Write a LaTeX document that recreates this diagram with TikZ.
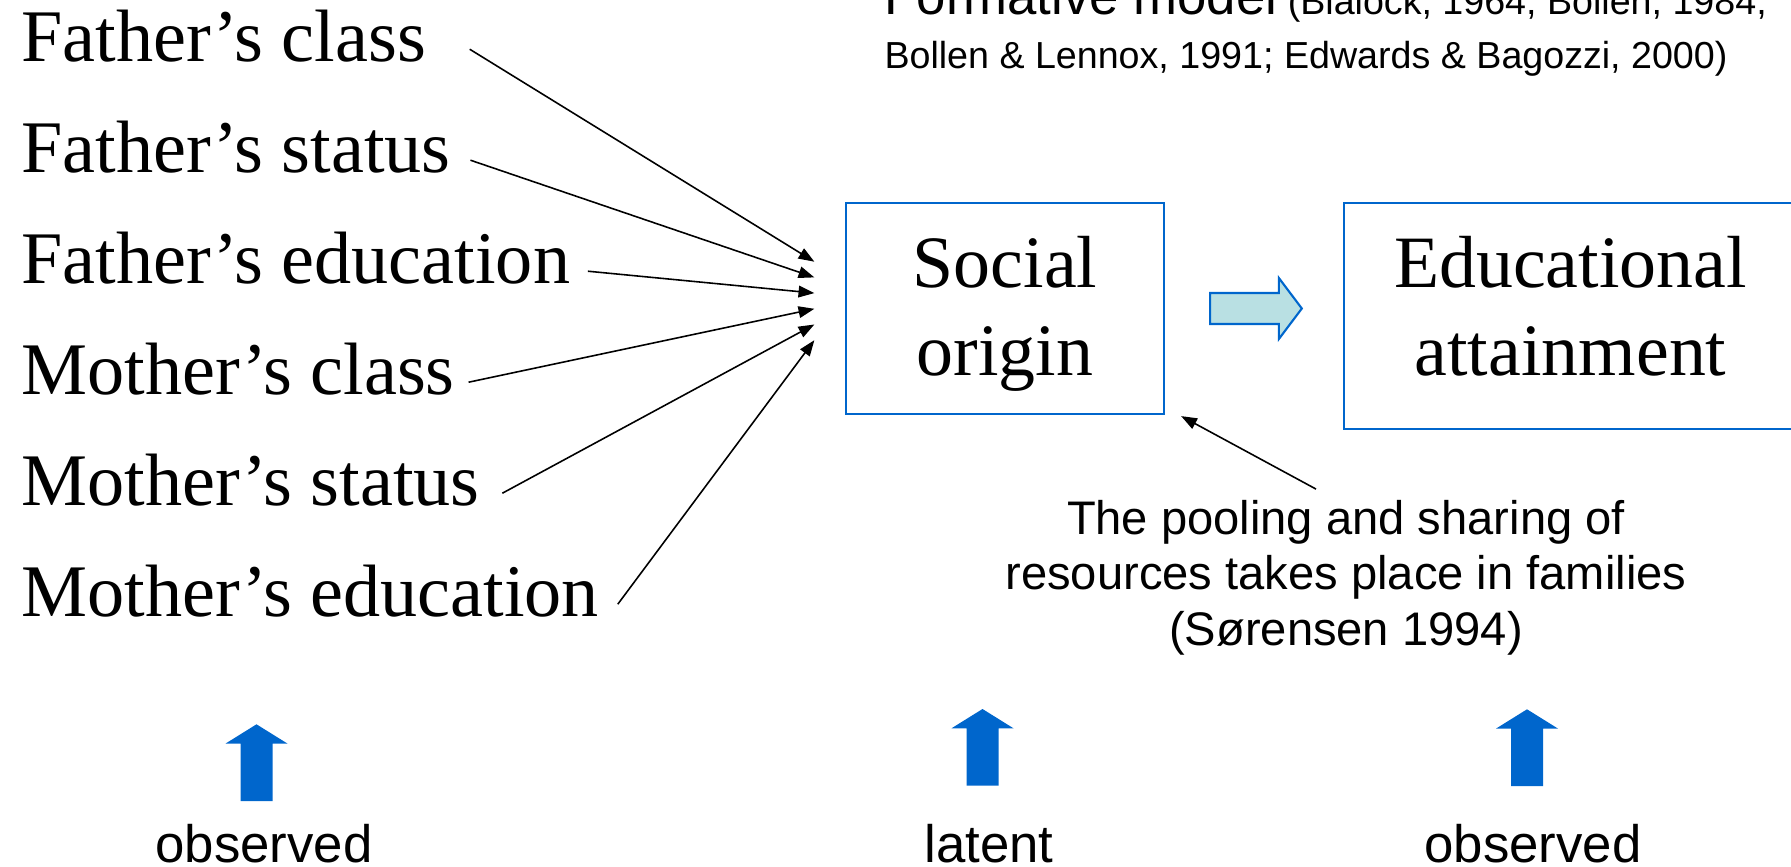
\documentclass[tikz,border=0pt]{standalone}
\usepackage{fontspec}
\setmainfont{Liberation Serif}
\setsansfont{Liberation Sans}
\usetikzlibrary{positioning,arrows.meta,calc}
\definecolor{boxblue}{RGB}{0,102,204}
\definecolor{paleteal}{RGB}{185,224,227}

\begin{document}
\begin{tikzpicture}[x=0.01cm, y=0.01cm,
    item/.style={anchor=base west, inner sep=0pt, text height=11.5pt, text depth=4.4pt, font=\fontsize{21.1}{25}\selectfont},
    factor/.style={draw=boxblue, line width=0.6pt, align=center, inner sep=0pt, font=\fontsize{21}{25.1}\selectfont},
    note/.style={align=center, inner sep=0pt, font=\sffamily\fontsize{13.4}{15.65}\selectfont},
    tag/.style={anchor=base, inner sep=0pt, font=\sffamily\fontsize{15}{18}\selectfont},
    arr/.style={-{Triangle[length=4.5pt,width=3.3pt]}, line width=0.45pt},
    blockarr/.style={draw=boxblue, line width=0.6pt, fill=paleteal},
    uparr/.style={fill=boxblue},
]
\useasboundingbox (0,0) rectangle (1791,866);

% title (cut at the top edge)
\node[anchor=base west, align=left, inner sep=0pt, font=\sffamily\fontsize{10.7}{15.45}\selectfont] (title) at (883.8,797.5)
  {{\fontsize{15}{15.45}\selectfont Formative model} (Blalock, 1964, Bollen, 1984,\\
   Bollen \& Lennox, 1991; Edwards \& Bagozzi, 2000)};

% indicators
\node[item] (fc) at (20.7,804.3) {Father’s class};
\node[item] (fs) at (20.7,693.3) {Father’s status};
\node[item] (fe) at (20.7,582.3) {Father’s education};
\node[item] (mc) at (20.7,471.3) {Mother’s class};
\node[item] (ms) at (20.7,360.3) {Mother’s status};
\node[item] (me) at (20.7,249.3) {Mother’s education};

% latent variable and outcome
\node[factor, text depth=1.6pt, minimum width=3.18cm, minimum height=2.11cm] (origin) at (1005,557.5) {Social\\origin};
\node[factor, text depth=5.8pt, minimum width=4.53cm, minimum height=2.265cm] (attain) at (1570.5,550) {Educational\\attainment};

% arrows into social origin
\foreach \i in {1,...,6}
  \coordinate (in\i) at ($(origin.west)+(-30.5,{46.8-15.7*(\i-1)})$);
\foreach \n/\g [count=\i] in {fc/43,fs/19,fe/17,mc/13,ms/22,me/18}
  \draw[arr] ([shift={(\g,0)}]\n.east) -- (in\i);

% block arrow
\coordinate (mid) at ($(origin.east)+(91,0)$);
\draw[blockarr] ([shift={(-46,15.5)}]mid) -- ++(68.7,0) -- ++(0,15) -- ++(23,-30.5) -- ++(-23,-30.5) -- ++(0,15) -- ++(-68.7,0) -- cycle;

% note
\node[note, anchor=base] (pool) at (1346,221) {The pooling and sharing of\\resources takes place in families\\(Sørensen 1994)};
\draw[arr] ([shift={(-30,11)}]pool.north) -- ([shift={(16,-1)}]origin.south east);

% bottom labels
\node[tag] (obs1) at (264,3.5) {observed};
\node[tag] (lat) at (989,3.5) {latent};
\node[tag] (obs2) at (1533,3.5) {observed};
\foreach \n/\dx/\dy in {obs1/-7.5/138.2, lat/-6.5/153.5, obs2/-6/153.2}
  \fill[uparr] ([shift={(\dx,\dy)}]\n.base) -- ++(31,-19.3) -- ++(-15,0) -- ++(0,-57.4) -- ++(-32,0) -- ++(0,57.4) -- ++(-15,0) -- cycle;

\end{tikzpicture}
\end{document}
